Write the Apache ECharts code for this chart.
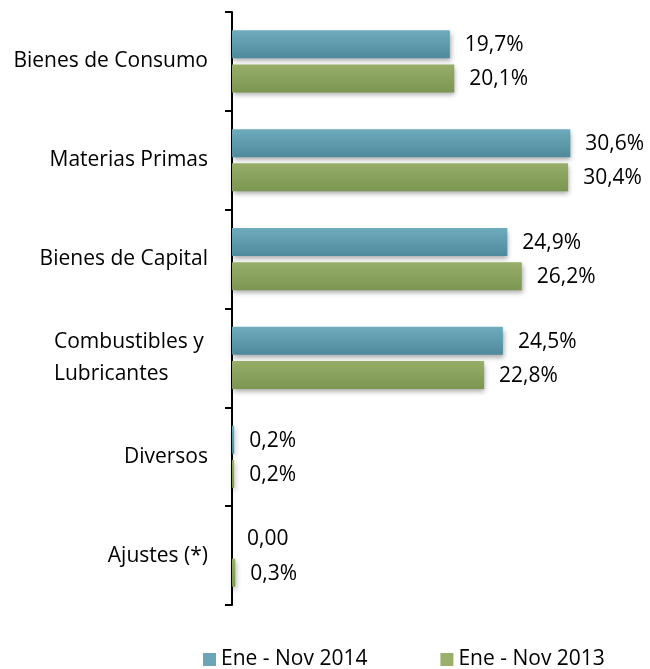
<!DOCTYPE html>
<html>
<head>
<meta charset="utf-8">
<script src="https://cdn.jsdelivr.net/npm/echarts@6/dist/echarts.min.js"></script>
<style>
  html, body { margin: 0; padding: 0; background: #fff; }
  #chart { width: 650px; height: 669px; }
</style>
</head>
<body>
<div id="chart"></div>
<script>
const categories = ['Bienes de Consumo', 'Materias Primas', 'Bienes de Capital', 'Combustibles y\nLubricantes', 'Diversos', 'Ajustes (*)']
const seriesNames = ['Ene - Nov 2014', 'Ene - Nov 2013']
const values2014 = [19.7, 30.6, 24.9, 24.5, 0.2, 0.0]
const values2013 = [20.1, 30.4, 26.2, 22.8, 0.2, 0.3]
const labels2014 = ['19,7%', '30,6%', '24,9%', '24,5%', '0,2%', '0,00']
const labels2013 = ['20,1%', '30,4%', '26,2%', '22,8%', '0,2%', '0,3%']

const font = 'Open Sans'
const blue = new echarts.graphic.LinearGradient(0, 0, 0, 1, [
  {offset: 0, color: '#6eabbc'},
  {offset: 1, color: '#4e8a9b'}
])
const green = new echarts.graphic.LinearGradient(0, 0, 0, 1, [
  {offset: 0, color: '#96ae68'},
  {offset: 1, color: '#7c9550'}
])

function barSeries(name, values, labels, color) {
  return {
    name: name,
    type: 'bar',
    barWidth: 28,
    barGap: '22%',
    data: values,
    itemStyle: {
      color: color,
      shadowColor: 'rgba(0,0,0,0.35)',
      shadowBlur: 5,
      shadowOffsetY: 3,
      shadowOffsetX: 1
    },
    label: {
      show: true,
      position: 'right',
      distance: 15,
      offset: [0, 1],
      color: '#000',
      fontFamily: font,
      fontSize: 21,
      formatter: p => labels[p.dataIndex]
    }
  }
}

const chart = echarts.init(document.getElementById('chart'))
chart.setOption({
  animation: false,
  grid: {left: 232, top: 12, width: 387, bottom: 64, containLabel: false},
  legend: {
    bottom: -6,
    left: 198,
    itemWidth: 13,
    itemHeight: 13,
    itemGap: 73,
    icon: 'rect',
    textStyle: {fontFamily: font, fontSize: 21, color: '#000'},
    data: [
      {name: seriesNames[0], itemStyle: {color: '#6aa6b8'}},
      {name: seriesNames[1], itemStyle: {color: '#9aaf6a'}}
    ]
  },
  xAxis: {
    type: 'value',
    min: 0,
    max: 35,
    show: false,
    splitLine: {show: false}
  },
  yAxis: {
    type: 'category',
    inverse: true,
    data: categories,
    axisLine: {lineStyle: {color: '#000', width: 2}},
    axisTick: {show: true, length: 7, lineStyle: {color: '#000', width: 2}},
    axisLabel: {
      fontFamily: font,
      fontSize: 21,
      color: '#000',
      margin: 24,
      lineHeight: 32,
      // two-line labels are left-aligned inside their block
      formatter: v => v.includes('\n') ? v.split('\n').map(s => '{l|' + s + '}').join('\n') : v,
      rich: {
        l: {fontFamily: font, fontSize: 21, color: '#000', width: 154, align: 'left', lineHeight: 32}
      }
    }
  },
  series: [
    barSeries(seriesNames[0], values2014, labels2014, blue),
    barSeries(seriesNames[1], values2013, labels2013, green)
  ]
})
</script>
</body>
</html>
